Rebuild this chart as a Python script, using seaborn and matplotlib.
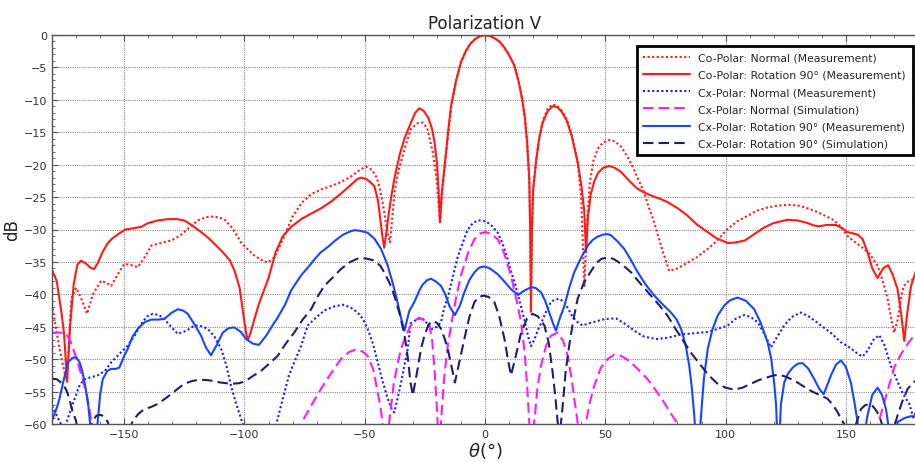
import numpy as np
import pandas as pd
import matplotlib
matplotlib.use("Agg")
import matplotlib.pyplot as plt
from matplotlib.ticker import MultipleLocator
import seaborn as sns

# ================= Data (theta in deg, level in dB) =================
co_norm_meas = [
    (-180, -41.5), (-178, -46), (-176, -50), (-174, -53.3), (-173, -48), (-172, -40.7),
    (-170, -39), (-168, -40.5), (-165.4, -43), (-163, -40), (-159.6, -37.9), (-157, -38.3),
    (-155.4, -38.7), (-152, -36.5), (-149.9, -35.3), (-147, -35.5), (-144.3, -35.8),
    (-141, -34), (-138.8, -32.5), (-134, -32), (-130.5, -31.7), (-127, -31), (-125, -30.4),
    (-122, -29.4), (-119.4, -28.6), (-116, -28.1), (-113.9, -28.0), (-111, -28.1),
    (-108.4, -28.4), (-105, -29.8), (-101.4, -32), (-98, -33.3), (-95.9, -34), (-93, -34.7),
    (-90.3, -35.1), (-87.6, -34.3), (-84, -31.5), (-80, -28), (-76, -25.8), (-72, -24.5),
    (-68, -23.8), (-64, -23.3), (-60, -22.7), (-56, -21.9), (-52, -20.8), (-49.5, -20.3),
    (-47, -20.8), (-45, -22), (-43.5, -24), (-42, -27), (-40.8, -30), (-39.5, -32),
    (-38.5, -28), (-37.5, -24), (-36, -21), (-34.9, -19.6), (-33, -17), (-30.8, -14.5),
    (-28, -13.6), (-25.9, -13.5), (-24, -14.4), (-21.7, -18.1), (-20.2, -22), (-19.4, -25.5),
    (-18.7, -29), (-18, -25), (-17, -21), (-15.5, -16), (-14, -11), (-12, -7), (-10, -4.2),
    (-8, -2.5), (-6, -1.3), (-4, -0.6), (-2, -0.15), (0, 0), (2, -0.15), (4, -0.5),
    (6, -1.0), (8, -1.9), (10, -3.1), (12.2, -4.7), (14, -7.2), (15.5, -10), (16.5, -12.5),
    (17.5, -16.5), (18.4, -22.2), (18.8, -30), (19.1, -40), (19.5, -30), (20, -24),
    (21.2, -19.5), (22.5, -16), (24, -13.3), (26, -11.4), (28, -10.7), (30, -10.9),
    (32, -11.7), (34, -13), (36, -15.3), (38.5, -19.5), (40, -25), (41.3, -38.9),
    (42.3, -30), (43.5, -23), (45, -19.5), (46.8, -17.6), (49, -16.6), (51.7, -16.2),
    (54, -16.4), (56.5, -17.2), (59, -18.6), (62, -20.8), (64, -22.5), (66.2, -24.3),
    (68, -26.5), (70, -28.5), (72, -31), (74, -33.5), (76.6, -36.4), (80, -36),
    (84.2, -35.1), (88, -34.3), (92.6, -33), (96, -31.9), (100.9, -29.9), (105, -28.7),
    (109.2, -27.9), (113, -27.1), (117.5, -26.6), (122, -26.3), (126.5, -26.2), (130, -26.3),
    (133, -26.6), (136.9, -27.1), (141, -27.8), (145.2, -28.6), (148, -29.6), (150.7, -31),
    (154, -32), (157.6, -33), (160, -33.8), (163.2, -35.6), (165, -37.5), (167.4, -40.7),
    (169, -44), (170.1, -45.9), (171.5, -44), (173, -40.5), (174.1, -38.7), (176, -38),
    (178, -37.7), (180, -37.6),
]

co_rot_meas = [
    (-180, -36.2), (-178, -38), (-176, -43), (-175, -46), (-173.7, -53.5), (-172.5, -45),
    (-171, -38.5), (-169.5, -35.5), (-168, -34.8), (-166, -35.2), (-164, -35.9),
    (-162.5, -36.1), (-161, -35.2), (-159, -33.5), (-157, -32.2), (-155, -31.4),
    (-152, -30.6), (-149.5, -30.0), (-146, -29.8), (-143, -29.6), (-140, -29.0),
    (-136, -28.6), (-132, -28.4), (-128, -28.4), (-125, -28.6), (-122, -29.3),
    (-118, -30.4), (-115, -31.3), (-112.5, -32.2), (-109, -33.5), (-106, -34.8),
    (-104, -36.5), (-102, -39.0), (-100.5, -43), (-99.3, -46.0), (-98.6, -47.1),
    (-97.5, -46), (-96, -44), (-94, -41.5), (-92, -39.5), (-90, -37.5), (-87, -33.5),
    (-84, -31), (-80.6, -29.6), (-76, -28.3), (-72, -27.5), (-68, -26.7), (-64, -25.7),
    (-60, -24.5), (-56, -23.2), (-53, -22.2), (-51.5, -22.0), (-49.5, -22.2), (-48, -22.6),
    (-46, -23.3), (-44.5, -25.5), (-43.5, -28.5), (-42.5, -31.5), (-41.9, -32.8),
    (-41, -30.5), (-40, -27.5), (-39, -25), (-37.7, -22.2), (-35.5, -18.5), (-33.5, -16),
    (-31, -13.7), (-29, -12), (-27.3, -11.3), (-25.5, -11.7), (-23.5, -12.8), (-22, -14.5),
    (-21, -16.5), (-20, -19.6), (-19.3, -24), (-18.7, -28.9), (-18, -24.5), (-16.9, -20.7),
    (-15.5, -15.5), (-14.1, -10.9), (-12, -7), (-10, -4.2), (-8, -2.5), (-6, -1.3),
    (-4, -0.6), (-2, -0.15), (0, 0), (2, -0.15), (4, -0.5), (6, -1.0), (8, -1.9),
    (10, -3.1), (12.2, -4.7), (14, -7.2), (15.5, -10), (16.5, -12.5), (17.5, -16.5),
    (18.4, -22.2), (18.8, -30), (19.1, -42.7), (19.5, -30), (20, -24), (21.2, -19.6),
    (22.5, -16), (24, -13.5), (26, -11.8), (28, -11.0), (30, -11.1), (32, -11.9),
    (34, -13.2), (36, -15.5), (38.5, -19.6), (40, -23), (41.3, -27.3), (42, -33.5),
    (42.8, -28), (44, -24.5), (45.5, -22.5), (47, -21.3), (49, -20.5), (51.7, -20.2),
    (54, -20.5), (56.5, -21.1), (60, -22.5), (63, -23.6), (66.2, -24.3), (70, -24.9),
    (73, -25.3), (76, -25.8), (80, -26.7), (84, -27.8), (88, -29.2), (92.6, -30.4),
    (96, -31.3), (101, -32.1), (104, -32.0), (108, -31.7), (112, -30.7), (116, -29.7),
    (120, -29), (125.8, -28.5), (130, -28.6), (134, -29), (137, -29.4), (139, -29.5),
    (142, -29.3), (145.9, -29.3), (148.5, -29.8), (150.7, -30.4), (153, -30.6),
    (155, -30.8), (157, -31.5), (159, -33.5), (161, -36), (163.2, -37.5), (165.5, -36),
    (167.6, -35.5), (169.5, -37), (171.5, -39.2), (173, -43), (174.3, -47.2),
    (175.5, -43), (177.1, -38.7), (179.1, -36.4), (180, -36),
]

cx_norm_meas = [
    (-180, -57.2), (-177, -59.5), (-175, -61), (-173.5, -59.2), (-171, -56.5),
    (-168.5, -54), (-166.5, -53.1), (-164, -52.8), (-161, -52.5), (-158, -51.8),
    (-155.4, -50.5), (-152, -49.2), (-148.5, -47.9), (-145.5, -46.3), (-143, -44.6),
    (-140.5, -43.4), (-138.1, -43), (-135.5, -43.2), (-133.3, -43.8), (-130.5, -45),
    (-127.7, -46.1), (-124, -45.6), (-120.8, -44.8), (-118, -44.9), (-115.3, -45.3),
    (-112.5, -46.5), (-109.7, -48.4), (-107.5, -51), (-105.6, -54.1), (-103.5, -56.8),
    (-101.4, -59.2), (-99, -62), (-95, -66), (-90, -66), (-88, -62), (-86.2, -59.2),
    (-84, -56), (-81.5, -52.5), (-79.3, -50.5), (-76.5, -48), (-73.7, -44.8), (-70, -43.5),
    (-66.8, -42.5), (-63, -41.9), (-59.1, -41.6), (-56, -42), (-52.9, -42.8),
    (-50.8, -43.8), (-48.8, -45.3), (-46.5, -47.7), (-44.6, -50.5), (-42.5, -53.5),
    (-40.4, -56.1), (-38.5, -58), (-37.7, -58.2), (-36.3, -56), (-34.9, -53.6),
    (-33.5, -51), (-32.1, -48.4), (-31, -44.5), (-28, -43.8), (-26, -43.7), (-24, -44.5),
    (-22.4, -45.4), (-20, -45), (-18.3, -44.3), (-16.9, -42), (-15.5, -40.5),
    (-13.5, -37.5), (-11.4, -34.3), (-9, -31.8), (-7.2, -30), (-5, -29), (-3, -28.6),
    (-1, -28.6), (1, -28.9), (3, -29.5), (5.3, -30.5), (7, -31.9), (9, -34), (10.8, -36.5),
    (12.2, -38), (14, -40.5), (16.3, -43.8), (17.8, -46.3), (19.1, -48), (20.5, -47),
    (22, -45.5), (23.3, -44.5), (25.5, -42.6), (27.4, -41.2), (29, -40.8), (30.9, -40.7),
    (33, -41.2), (34.4, -42.1), (36.5, -43.5), (38.5, -44.3), (40.6, -44.8), (43, -44.5),
    (46.8, -44.1), (50, -43.8), (54.4, -43.7), (58, -44.5), (62, -45.6), (66, -46.5),
    (71.1, -46.9), (76, -46.7), (81.5, -46.2), (87, -46), (92.6, -45.8), (97, -45.3),
    (100.9, -44.8), (104.5, -43.7), (107.8, -43.2), (110.5, -43.5), (113.3, -44.3),
    (116, -46), (118.9, -48.2), (121.5, -46.5), (124.4, -44.8), (127.5, -43.5),
    (131.3, -42.8), (135, -43.5), (139.7, -44.8), (144, -46), (148, -47.4), (152, -48.3),
    (155, -49.2), (157, -49.6), (159, -48.7), (161.5, -47), (163.9, -46.3), (166, -47.8),
    (168.7, -51), (171.5, -53.5), (174, -55.5), (176.5, -57), (178, -59), (180, -57.5),
]

cx_norm_sim = [
    (-180, -45.9), (-177, -45.9), (-174.2, -46), (-172, -47.5), (-169.3, -50.5),
    (-167.5, -52.8), (-165.8, -55.1), (-164.5, -57.5), (-163.5, -60), (-162, -65),
    (-150, -72), (-100, -72), (-80, -66), (-77, -61), (-75.8, -59.5), (-72, -57),
    (-68.2, -54.6), (-64, -52.2), (-59.9, -50), (-56.5, -48.9), (-53.6, -48.5),
    (-51, -48.8), (-48.8, -49.5), (-46.5, -51.5), (-44.6, -55.1), (-43.2, -58),
    (-42, -62), (-41, -66), (-40.3, -62), (-39.8, -59.7), (-38, -54), (-36.5, -51),
    (-34.9, -48.4), (-32.8, -46.3), (-30.8, -44.8), (-29, -44), (-27.3, -43.6),
    (-25.3, -44), (-23.1, -44.8), (-22, -47), (-21.1, -51), (-20.3, -55.5), (-19.7, -59.7),
    (-19, -66), (-18.3, -59.7), (-17, -53), (-15.5, -48), (-14.1, -44.8), (-12, -40.5),
    (-10, -37.1), (-7, -33.6), (-4.4, -31.5), (-2, -30.6), (0.4, -30.4), (3, -30.8),
    (5.3, -31.5), (8, -33.7), (10.8, -37.1), (13, -40.7), (15, -44.3), (16.5, -49),
    (17.5, -54), (18.4, -59.7), (19.3, -66), (20.5, -59.7), (21.8, -54.5), (23.3, -51),
    (25.5, -47.8), (27.4, -46.4), (30.2, -45.9), (32.5, -47.2), (34.4, -49.5), (36, -53),
    (37.1, -56.1), (38.5, -59.7), (40.2, -66), (42, -59.7), (43.7, -56.5), (45.4, -54.1),
    (48.2, -51.3), (51, -50), (53.7, -49.3), (56, -49.4), (58, -49.8), (60.7, -50.5),
    (64, -51.7), (67.6, -53.1), (71, -54.8), (74.5, -56.7), (77.5, -58.5), (80.1, -60),
    (84, -63), (90, -68), (150, -72), (157, -68), (160, -65), (162.5, -61), (164.6, -58.5),
    (167.5, -54.7), (170.1, -51.3), (173, -49.2), (176, -47.5), (179, -46.1), (180, -45.9),
]

cx_rot_meas = [
    (-180, -59.5), (-178, -57.5), (-176.9, -56.1), (-175, -53), (-173.4, -50.5),
    (-171.5, -49.8), (-170, -49.7), (-168.5, -50.5), (-167.3, -52), (-166, -54.5),
    (-164.9, -57.2), (-164, -60.5), (-163, -66), (-162, -62), (-161, -59.7), (-160, -55.5),
    (-158.9, -53.1), (-157, -51.8), (-155.4, -51.5), (-153.5, -51.5), (-152, -51.3),
    (-150, -49.5), (-148.5, -48.4), (-146.5, -46.5), (-144.3, -45.3), (-141.5, -44.3),
    (-138.8, -43.9), (-136, -43.9), (-133.3, -43.8), (-130.5, -42.9), (-127.7, -42.3),
    (-125.5, -42.5), (-123.6, -43), (-121, -44.5), (-118, -46.4), (-116, -48.2),
    (-113.9, -49.4), (-111.5, -47.8), (-109, -45.9), (-106.5, -45.2), (-104.2, -45.1),
    (-101.5, -45.8), (-99.3, -46.9), (-96.5, -47.6), (-94, -47.8), (-91, -46.4),
    (-88, -44.6), (-86.2, -43.6), (-83, -41.5), (-80.6, -39.4), (-76.5, -37.1),
    (-73, -35.6), (-70.9, -34.6), (-68.2, -33.5), (-65, -32.6), (-62.6, -31.8), (-59, -30.8),
    (-56, -30.3), (-54.3, -30.1), (-52, -30.2), (-48.8, -30.5), (-46, -31.4), (-43.2, -33),
    (-40.5, -35.5), (-38.4, -38.2), (-36.5, -41), (-35, -43.5), (-33.5, -45.6),
    (-31.5, -42.6), (-29.4, -41.2), (-27, -39.2), (-25.9, -38.5), (-24, -37.8),
    (-22.4, -37.6), (-20.5, -38), (-18.3, -38.7), (-16.5, -40), (-14.8, -41.8),
    (-12.5, -43.2), (-10.5, -41.8), (-8.6, -39.7), (-6.5, -37.8), (-4.4, -36.6),
    (-2.5, -35.9), (-0.3, -35.7), (2, -36), (5.3, -36.9), (8, -38), (10.8, -39.2),
    (13.8, -40.1), (16, -39.5), (19.1, -38.9), (21, -39), (23.3, -39.7), (25, -41),
    (26.7, -42.8), (28.3, -44.5), (29.5, -45.6), (31, -43.8), (33, -41.8), (35, -39),
    (37.1, -36.6), (40, -34.3), (42.7, -32.5), (44.8, -31.6), (46.8, -31.1), (49, -30.8),
    (51, -30.7), (52.4, -30.9), (55, -31.8), (57.9, -33), (60.5, -34.6), (63.5, -36.6),
    (67, -38.6), (70.4, -40.2), (74, -41.6), (77.3, -42.8), (79.5, -43.8), (81.5, -45.3),
    (83.5, -48), (84.9, -51), (86, -54.5), (87, -58.7), (88.3, -66), (89.8, -58.7),
    (91, -53), (92.6, -48.4), (94.5, -45.5), (96.7, -43.3), (99.5, -41.7), (102, -40.9),
    (105, -40.5), (108.5, -41), (111.9, -42.3), (114.5, -44.3), (117.5, -47.4),
    (119, -50), (120.2, -53.6), (121, -57), (122, -66), (123, -57), (124.4, -53.6),
    (126, -52.2), (127.9, -51.3), (130, -50.7), (132, -50.6), (134.5, -51.5),
    (136.9, -53.1), (139, -54.6), (140.8, -55.4), (142.5, -53.8), (143.8, -52.5),
    (146, -50.8), (148, -50.2), (150, -51.2), (152.1, -53.6), (153.5, -56.5),
    (154.9, -59.7), (156.5, -66), (158, -61), (159, -58.7), (161, -55.5), (163.2, -54.4),
    (165, -55.5), (166.7, -57.7), (168, -61), (169.5, -66), (171, -61), (171.5, -59.7),
    (174.3, -59.1), (177, -58.8), (180, -58.8),
]

cx_rot_sim = [
    (-180, -53), (-178, -53.1), (-175.5, -53.8), (-174, -54.8), (-172.8, -56.1),
    (-171.5, -58), (-170, -59.5), (-169, -62), (-167, -66), (-165, -62), (-163, -59.5),
    (-161.5, -58.7), (-159.6, -58.6), (-158, -59), (-156.8, -59.7), (-155, -62),
    (-152, -66), (-149, -62), (-146.4, -59.5), (-144, -58.4), (-141.6, -57.7),
    (-139, -57.4), (-136, -56.9), (-133, -56.1), (-130.5, -55.4), (-127.5, -54.5),
    (-125, -53.8), (-122, -53.4), (-119.4, -53.2), (-116.5, -53.2), (-113.9, -53.3),
    (-110, -53.6), (-105.6, -53.8), (-102, -53.7), (-99.3, -53.3), (-96.5, -52.6),
    (-93.1, -51.8), (-90, -50.8), (-86.2, -49.5), (-83, -47.7), (-79.3, -45.9), (-76, -44),
    (-72.3, -42.3), (-69.5, -40.3), (-66.8, -38.7), (-63, -37.3), (-59.9, -36.1),
    (-56, -35), (-53, -34.5), (-51.5, -34.4), (-49, -34.5), (-46, -34.8), (-43.5, -35.6),
    (-41.9, -36.6), (-39.5, -38.4), (-37.7, -40.2), (-35.5, -43), (-33.5, -46.2),
    (-32, -50), (-31, -53.5), (-30, -55.6), (-29, -53.5), (-28, -51.5), (-26.6, -48.4),
    (-25.2, -46.4), (-23.5, -44.7), (-21.7, -44.1), (-20, -44.4), (-18.3, -45.3),
    (-16.8, -46.8), (-15.5, -48.4), (-14, -51), (-12.5, -53.6), (-11, -51), (-8.6, -46.9),
    (-6.5, -43.5), (-4.4, -41.2), (-2.5, -40.4), (-0.6, -40.2), (1.5, -40.4), (3.9, -41.2),
    (6, -43.5), (8.1, -46.9), (9.5, -50), (10.8, -52.5), (12.5, -50), (15, -45.9),
    (17.5, -43.7), (19.8, -43), (22, -43.4), (24.7, -44.8), (26.5, -47.5), (28.1, -52),
    (29.3, -56), (30.2, -59.7), (31, -62), (31.8, -59), (32.3, -57.2), (33.5, -52),
    (35, -47.9), (36.8, -43.8), (38.5, -40.7), (41, -38.3), (44.1, -36.4), (46.5, -35.1),
    (48.5, -34.5), (51.7, -34.3), (53.7, -34.6), (57, -35.4), (60.7, -36.6), (64.5, -38.3),
    (69, -40.2), (72.5, -41.7), (75.9, -43.3), (79, -45.2), (82.8, -47.4), (86, -49.2),
    (89.8, -51), (93, -52.5), (96.7, -53.8), (100, -54.4), (103.6, -54.7), (107, -54.4),
    (110.5, -53.8), (114, -53.2), (117.5, -52.8), (120, -52.5), (122.3, -52.4),
    (125, -52.7), (128.6, -53.3), (132, -54.1), (135.5, -54.9), (139, -55.5),
    (142.4, -56.1), (144.5, -57), (146.6, -58.2), (148, -59.2), (149.3, -60), (151, -62),
    (153, -61.5), (154.5, -59.7), (156.3, -57.7), (158, -57.1), (160.4, -56.9),
    (162, -57.6), (163.9, -58.7), (165, -60), (166.5, -63), (168.5, -62), (170, -60.5),
    (171.5, -58.7), (173.5, -56.5), (175.7, -54.6), (178, -53.6), (180, -53.1),
]

SERIES = [
    ("Co-Polar: Normal (Measurement)", co_norm_meas, "#ff1a1a", (0, (1, 1.2)), 1.5),
    ("Co-Polar: Rotation 90° (Measurement)", co_rot_meas, "#ff1a1a", "-", 1.5),
    ("Cx-Polar: Normal (Measurement)", cx_norm_meas, "#1a1aff", (0, (1, 1.2)), 1.5),
    ("Cx-Polar: Normal (Simulation)", cx_norm_sim, "#ff1aff", (0, (5, 2.5)), 1.5),
    ("Cx-Polar: Rotation 90° (Measurement)", cx_rot_meas, "#1a45ff", "-", 1.5),
    ("Cx-Polar: Rotation 90° (Simulation)", cx_rot_sim, "#1f1f6e", (0, (5, 2.5)), 1.5),
]

# ================= Plot =================
sns.set_style("white")
plt.rcParams['font.family'] = ['DejaVu Sans']

fig = plt.figure(figsize=(9.15, 4.64), dpi=100)
ax = fig.add_axes([52 / 915, 39 / 464, 866 / 915, 389 / 464])

for label, pts, color, ls, lw in SERIES:
    df = pd.DataFrame(pts, columns=["theta", "dB"])
    sns.lineplot(data=df, x="theta", y="dB", ax=ax, color=color, linestyle=ls,
                 linewidth=lw, label=label, sort=False)

ax.set_xlim(-180, 180)
ax.set_ylim(-60, 0)
ax.xaxis.set_major_locator(MultipleLocator(50))
ax.xaxis.set_minor_locator(MultipleLocator(10))
ax.yaxis.set_major_locator(MultipleLocator(5))
ax.yaxis.set_minor_locator(MultipleLocator(1))
ax.grid(True, which='major', color='#8a8a8a', linestyle=(0, (1, 1)), linewidth=0.8)

for side in ['left', 'top', 'bottom']:
    ax.spines[side].set_color('#555555')
    ax.spines[side].set_linewidth(1.0)
ax.spines['right'].set_visible(False)
ax.tick_params(which='both', direction='in', top=True, bottom=True, left=True, right=False,
               colors='#555555', labelcolor='#333333', labelsize=8)
ax.tick_params(which='major', length=4)
ax.tick_params(which='minor', length=2.5)

ax.set_title("Polarization V", fontsize=12, color='#222222', pad=5)
ax.set_xlabel(r"$\theta$(°)", fontsize=13, color='#222222', labelpad=1)
ax.set_ylabel("dB", fontsize=12, color='#222222', labelpad=2)

leg = ax.legend(loc='upper right', bbox_to_anchor=(1.0, 0.985), fontsize=7.8,
                frameon=True, fancybox=False, edgecolor='black', handlelength=4.3,
                labelspacing=0.66, borderpad=0.6, handletextpad=0.8)
leg.get_frame().set_linewidth(2)
leg.get_frame().set_alpha(1)

fig.savefig("out.png", dpi=100)
